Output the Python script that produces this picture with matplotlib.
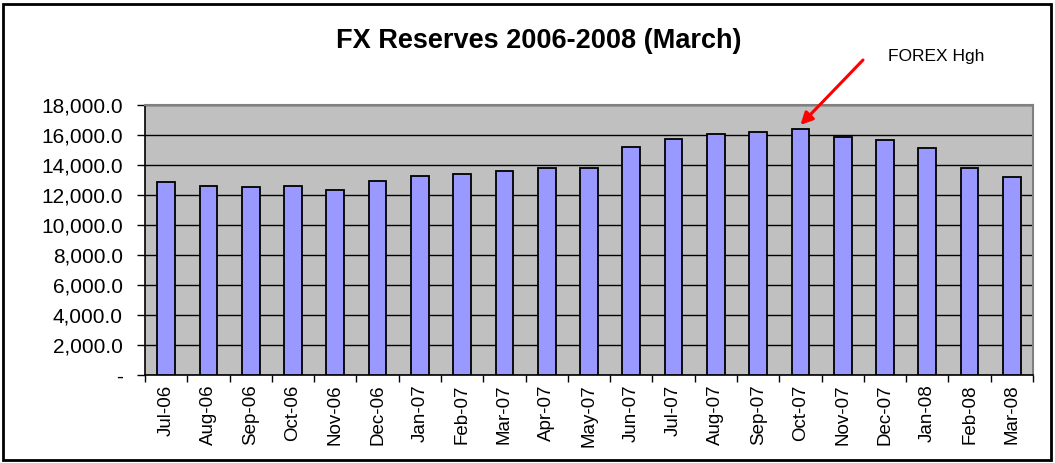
import numpy as np
import matplotlib.pyplot as plt
from matplotlib.ticker import FuncFormatter
from matplotlib.patches import Rectangle

plt.rcParams['font.family'] = ['Liberation Sans', 'DejaVu Sans']

# Monthly FX reserves
months = ['Jul-06', 'Aug-06', 'Sep-06', 'Oct-06', 'Nov-06', 'Dec-06', 'Jan-07',
          'Feb-07', 'Mar-07', 'Apr-07', 'May-07', 'Jun-07', 'Jul-07', 'Aug-07',
          'Sep-07', 'Oct-07', 'Nov-07', 'Dec-07', 'Jan-08', 'Feb-08', 'Mar-08']
reserves = [12850, 12620, 12510, 12620, 12310, 12950, 13270,
            13380, 13600, 13800, 13800, 15220, 15750, 16070,
            16200, 16420, 15890, 15670, 15130, 13820, 13200]
peak_label = 'FOREX Hgh'

W, H = 1055, 463
fig = plt.figure(figsize=(W / 100, H / 100), dpi=100)
ax = fig.add_axes([145 / W, 1 - 375 / H, 888 / W, 270 / H])

x = np.arange(len(months))
ax.bar(x, reserves, width=0.42, color='#9999FF', edgecolor='black', linewidth=1.3, zorder=3)

ax.set_facecolor('#C0C0C0')
ax.set_xlim(-0.5, len(months) - 0.5)
ax.set_ylim(0, 18000)
ax.set_yticks(np.arange(0, 18001, 2000))
ax.yaxis.set_major_formatter(FuncFormatter(lambda v, p: '-' if v == 0 else f'{v:,.1f}'))
ax.grid(axis='y', color='black', linewidth=1, zorder=1)

ax.set_xticks(x)
ax.set_xticklabels(months, rotation=90, fontsize=13.5)
ax.set_xticks(np.arange(-0.5, len(months), 1), minor=True)
ax.tick_params(axis='x', which='major', length=0, pad=7)
ax.tick_params(axis='x', which='minor', length=5, width=1, direction='out')
ax.tick_params(axis='y', length=6, width=1, labelsize=15, pad=10)

for side in ['top', 'right']:
    ax.spines[side].set_color('#808080')
    ax.spines[side].set_linewidth(1.5)
for side in ['left', 'bottom']:
    ax.spines[side].set_color('black')
    ax.spines[side].set_linewidth(1.2)

fig.text(539 / W, 1 - 41 / H, 'FX Reserves 2006-2008 (March)', ha='center', va='center',
         fontsize=19.5, fontweight='bold')

# Peak annotation: label and arrow
peak = int(np.argmax(reserves))
fig.text(888 / W, 1 - 57 / H, peak_label, fontsize=12.5, va='center', ha='left')
ax.annotate('', xy=(peak, reserves[peak] + 250), xycoords='data',
            xytext=(863, H - 60), textcoords='figure pixels',
            arrowprops=dict(arrowstyle='-|>', color='red', lw=2.2, mutation_scale=18,
                            shrinkA=0, shrinkB=0))

fig.patches.append(Rectangle((3 / W, 3 / H), 1048 / W, 456 / H,
                             transform=fig.transFigure, fill=False,
                             edgecolor='black', linewidth=2))

fig.savefig('out.png', dpi=100)
